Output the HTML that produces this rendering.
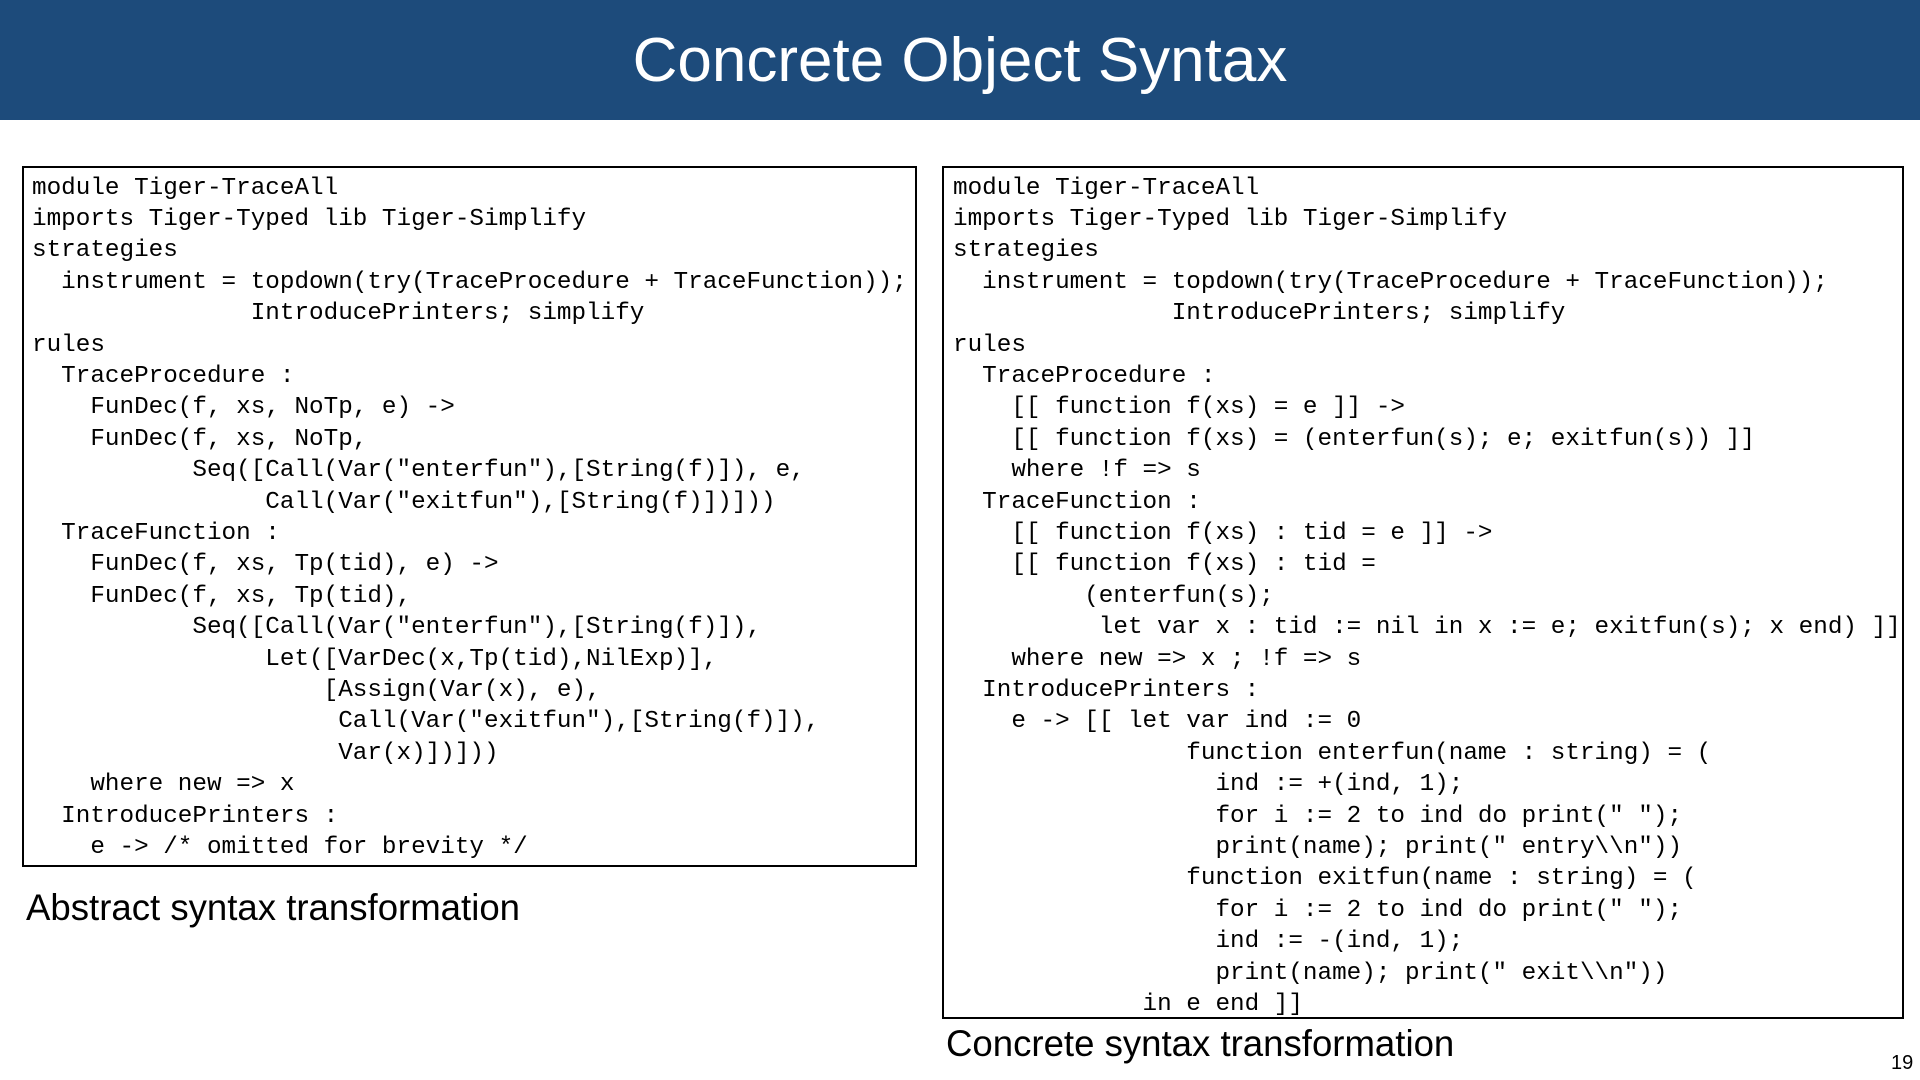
<!DOCTYPE html>
<html><head><meta charset="utf-8"><style>
body{margin:0;width:1920px;height:1080px;background:#fff;position:relative;overflow:hidden;font-family:"Liberation Sans",sans-serif}
.bar{position:absolute;left:0;top:0;width:1920px;height:120px;background:#1d4b7b;color:#fff;font-size:62px;text-align:center;line-height:122px}
.box{position:absolute;border:2px solid #000;box-sizing:border-box}
pre{margin:0;font-family:"Liberation Mono",monospace;font-size:24.3px;line-height:31.4px;white-space:pre;color:#000}
.cap{position:absolute;font-size:36.6px;color:#000;white-space:nowrap}
</style></head><body>
<div class="bar">Concrete Object Syntax</div>
<div class="box" style="left:22px;top:166px;width:895px;height:701px">
<pre style="position:absolute;left:8px;top:4.5px">module Tiger-TraceAll
imports Tiger-Typed lib Tiger-Simplify
strategies
  instrument = topdown(try(TraceProcedure + TraceFunction));
               IntroducePrinters; simplify
rules
  TraceProcedure :
    FunDec(f, xs, NoTp, e) ->
    FunDec(f, xs, NoTp,
           Seq([Call(Var("enterfun"),[String(f)]), e,
                Call(Var("exitfun"),[String(f)])]))
  TraceFunction :
    FunDec(f, xs, Tp(tid), e) ->
    FunDec(f, xs, Tp(tid),
           Seq([Call(Var("enterfun"),[String(f)]),
                Let([VarDec(x,Tp(tid),NilExp)],
                    [Assign(Var(x), e),
                     Call(Var("exitfun"),[String(f)]),
                     Var(x)])]))
    where new => x
  IntroducePrinters :
    e -> /* omitted for brevity */</pre></div>
<div class="box" style="left:942px;top:166px;width:962px;height:853px">
<pre style="position:absolute;left:9px;top:4.5px">module Tiger-TraceAll
imports Tiger-Typed lib Tiger-Simplify
strategies
  instrument = topdown(try(TraceProcedure + TraceFunction));
               IntroducePrinters; simplify
rules
  TraceProcedure :
    [[ function f(xs) = e ]] ->
    [[ function f(xs) = (enterfun(s); e; exitfun(s)) ]]
    where !f => s
  TraceFunction :
    [[ function f(xs) : tid = e ]] ->
    [[ function f(xs) : tid =
         (enterfun(s);
          let var x : tid := nil in x := e; exitfun(s); x end) ]]
    where new => x ; !f => s
  IntroducePrinters :
    e -> [[ let var ind := 0
                function enterfun(name : string) = (
                  ind := +(ind, 1);
                  for i := 2 to ind do print(" ");
                  print(name); print(" entry\\n"))
                function exitfun(name : string) = (
                  for i := 2 to ind do print(" ");
                  ind := -(ind, 1);
                  print(name); print(" exit\\n"))
             in e end ]]</pre></div>
<div class="cap" style="left:26px;top:887px">Abstract syntax transformation</div>
<div class="cap" style="left:946px;top:1023px">Concrete syntax transformation</div>
<div style="position:absolute;left:1891px;top:1052px;font-size:20px">19</div>
</body></html>
